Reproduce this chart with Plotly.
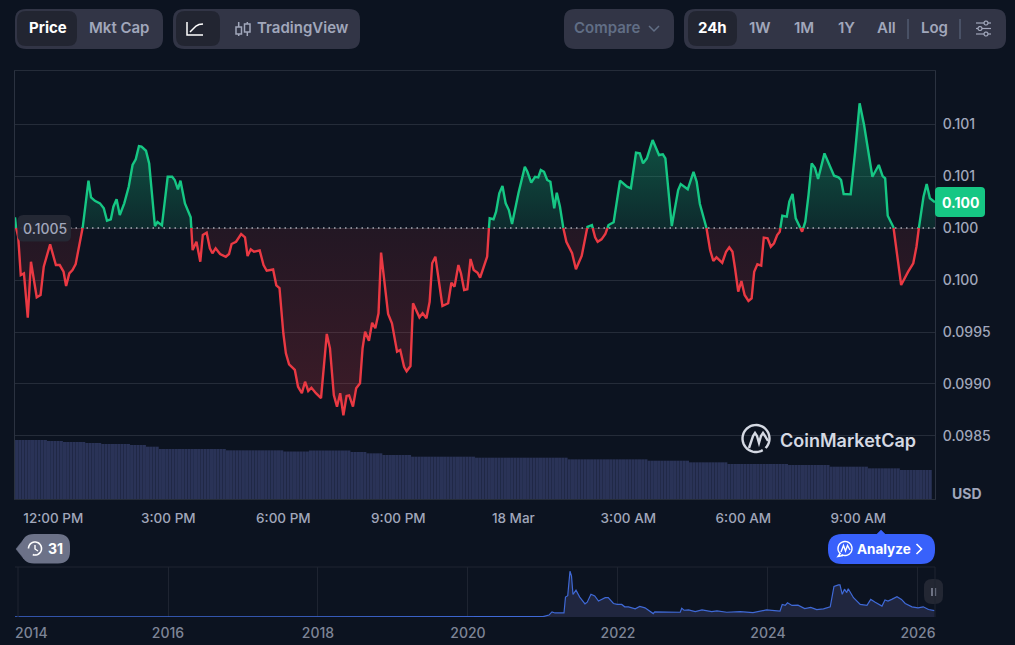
import math
import numpy as np
import plotly.graph_objects as go

W, H = 1015, 645

# 24h price, minutes after 11:00 on 17 Mar
minutes = [0, 1, 5, 9, 14, 20, 25, 34, 40, 45, 55, 64, 70, 76, 80, 85, 90, 95, 106, 115, 119, 125, 133, 139, 144, 150,
           154, 159, 164, 171, 178, 184, 189, 194, 198, 205, 210, 219, 223, 230, 239, 246, 250, 255, 259, 266, 275,
           278, 284, 290, 294, 300, 305, 309, 314, 321, 330, 335, 339, 346, 354, 360, 364, 369, 374, 383, 389, 394,
           404, 409, 414, 420, 424, 429, 438, 443, 449, 454, 459, 464, 471, 479, 488, 493, 499, 504, 509, 514, 519,
           523, 529, 534, 540, 544, 548, 554, 559, 564, 569, 573, 584, 590, 598, 603, 609, 613, 619, 623, 633, 638,
           644, 649, 653, 658, 669, 678, 683, 688, 694, 698, 703, 708, 713, 718, 724, 728, 739, 742, 743, 749, 753,
           758, 763, 768, 773, 778, 788, 798, 802, 808, 814, 819, 823, 828, 833, 838, 844, 848, 853, 858, 863, 872,
           878, 883, 887, 896, 903, 908, 912, 918, 924, 929, 937, 947, 958, 964, 972, 978, 983, 989, 998, 1008, 1014,
           1018, 1028, 1038, 1042, 1053, 1062, 1067, 1072, 1082, 1088, 1093, 1098, 1107, 1113, 1118, 1123, 1127, 1132,
           1137, 1142, 1148, 1153, 1157, 1162, 1168, 1172, 1178, 1183, 1188, 1193, 1197, 1201, 1208, 1212, 1217, 1222,
           1232, 1237, 1242, 1247, 1252, 1257, 1267, 1276, 1282, 1289, 1293, 1297, 1308, 1315, 1322, 1329, 1336, 1342,
           1352, 1358, 1362, 1366, 1375, 1381, 1387, 1398, 1406, 1411, 1415, 1422, 1427, 1432, 1440]
prices = [0.100603, 0.100519, 0.100416, 0.100048, 0.100064, 0.099638, 0.100176, 0.099834, 0.099856, 0.100128, 0.100343,
          0.100144, 0.100144, 0.100080, 0.099942, 0.100064, 0.100096, 0.100154, 0.100507, 0.100955, 0.100795, 0.100762,
          0.100737, 0.100689, 0.100570, 0.100584, 0.100705, 0.100776, 0.100625, 0.100737, 0.100897, 0.101106, 0.101161,
          0.101288, 0.101282, 0.101243, 0.101122, 0.100519, 0.100558, 0.100526, 0.100993, 0.100993, 0.100962, 0.100872,
          0.100955, 0.100737, 0.100603, 0.100288, 0.100368, 0.100176, 0.100433, 0.100455, 0.100305, 0.100257, 0.100305,
          0.100250, 0.100224, 0.100250, 0.100346, 0.100368, 0.100442, 0.100411, 0.100231, 0.100295, 0.100272, 0.100285,
          0.100144, 0.100089, 0.100101, 0.099949, 0.099923, 0.099488, 0.099295, 0.099189, 0.099135, 0.098974, 0.098911,
          0.099022, 0.098933, 0.098964, 0.098911, 0.098865, 0.099481, 0.099343, 0.098894, 0.098782, 0.098911, 0.098699,
          0.098885, 0.098891, 0.098782, 0.098959, 0.099007, 0.099343, 0.099503, 0.099416, 0.099589, 0.099536, 0.099680,
          0.100263, 0.099673, 0.099584, 0.099311, 0.099327, 0.099166, 0.099122, 0.099173, 0.099776, 0.099641, 0.099680,
          0.099632, 0.099791, 0.100161, 0.100224, 0.099750, 0.099776, 0.099974, 0.099936, 0.100144, 0.100064, 0.099904,
          0.099911, 0.100202, 0.100096, 0.100070, 0.100022, 0.100224, 0.100519, 0.100593, 0.100584, 0.100657, 0.100834,
          0.100904, 0.100737, 0.100673, 0.100538, 0.100834, 0.101089, 0.101041, 0.100936, 0.100993, 0.100987, 0.101058,
          0.101041, 0.100962, 0.100945, 0.100689, 0.100839, 0.100705, 0.100507, 0.100368, 0.100257, 0.100103, 0.100176,
          0.100231, 0.100512, 0.100529, 0.100411, 0.100368, 0.100391, 0.100442, 0.100529, 0.100555, 0.100955, 0.100897,
          0.100882, 0.101224, 0.101218, 0.101122, 0.101170, 0.101346, 0.101202, 0.101209, 0.101170, 0.100519, 0.100865,
          0.100923, 0.100872, 0.101041, 0.100945, 0.100731, 0.100512, 0.100288, 0.100183, 0.100218, 0.100166, 0.100272,
          0.100314, 0.100272, 0.100113, 0.099888, 0.099990, 0.099856, 0.099798, 0.099824, 0.100080, 0.100151, 0.100138,
          0.100407, 0.100401, 0.100320, 0.100353, 0.100433, 0.100464, 0.100618, 0.100609, 0.100753, 0.100827, 0.100593,
          0.100464, 0.100561, 0.100817, 0.101122, 0.101080, 0.100971, 0.101218, 0.101089, 0.101003, 0.100987, 0.100962,
          0.100827, 0.100824, 0.101234, 0.101699, 0.101490, 0.101202, 0.100993, 0.101106, 0.101000, 0.100978, 0.100618,
          0.100507, 0.100240, 0.099952, 0.100080, 0.100161, 0.100320, 0.100512, 0.100801, 0.100923, 0.100786, 0.100747]
base_price = 0.1005

# volume bars, 5 min each: run length and level
vol_runs = [10, 5, 7, 5, 9, 5, 4, 21, 18, 8, 13, 5, 5, 9, 20, 29, 25, 13, 12, 19, 13, 12, 10, 10]
vol_levels = [1.77, 1.74, 1.71, 1.68, 1.65, 1.62, 1.57, 1.50, 1.46, 1.425, 1.455, 1.41, 1.37, 1.32, 1.27, 1.24, 1.19,
              1.15, 1.10, 1.05, 1.02, 0.97, 0.92, 0.87]

time_ticks = [60, 240, 420, 600, 780, 960, 1140, 1320]
time_labels = ["12:00 PM", "3:00 PM", "6:00 PM", "9:00 PM", "18 Mar", "3:00 AM", "6:00 AM", "9:00 AM"]
price_ticks = [0.1015, 0.101, 0.1005, 0.1, 0.0995, 0.099, 0.0985]
price_labels = ["0.101", "0.101", "0.100", "0.100", "0.0995", "0.0990", "0.0985"]

# all time price for the small chart
hist_years = [2013.96, 2014.5, 2016.0, 2017.5, 2017.9, 2018.03, 2018.15, 2018.3, 2018.45, 2018.6, 2018.8, 2019.0, 2019.5,
              2020.0, 2020.43, 2021.00, 2021.08, 2021.12, 2021.16, 2021.28, 2021.30, 2021.33, 2021.36, 2021.38, 2021.40,
              2021.44, 2021.49, 2021.56, 2021.59, 2021.64, 2021.69, 2021.74, 2021.83, 2021.87, 2021.94, 2021.99, 2022.05,
              2022.09, 2022.14, 2022.23, 2022.29, 2022.36, 2022.47, 2022.49, 2022.83, 2022.85, 2022.88, 2022.94, 2023.03,
              2023.12, 2023.25, 2023.32, 2023.45, 2023.63, 2023.80, 2023.98, 2024.16, 2024.19, 2024.23, 2024.26, 2024.32,
              2024.40, 2024.49, 2024.57, 2024.65, 2024.74, 2024.83, 2024.88, 2024.94, 2024.96, 2024.99, 2025.02, 2025.05,
              2025.07, 2025.14, 2025.23, 2025.32, 2025.37, 2025.43, 2025.52, 2025.56, 2025.60, 2025.65, 2025.72, 2025.78,
              2025.83, 2025.92, 2026.00, 2026.07, 2026.14, 2026.22]
hist_prices = [0.001, 0.001, 0.001, 0.001, 0.003, 0.012, 0.006, 0.004, 0.007, 0.003, 0.006, 0.003, 0.003,
               0.002, 0.002, 0.005, 0.03, 0.08, 0.063, 0.063, 0.31, 0.33, 0.71, 0.64, 0.35,
               0.416, 0.31, 0.205, 0.23, 0.353, 0.327, 0.248, 0.30, 0.30, 0.21, 0.195, 0.195,
               0.158, 0.158, 0.126, 0.163, 0.142, 0.053, 0.079, 0.074, 0.137, 0.105, 0.11, 0.084,
               0.11, 0.084, 0.095, 0.074, 0.084, 0.069, 0.11, 0.09, 0.195, 0.18, 0.22, 0.18,
               0.185, 0.13, 0.148, 0.116, 0.126, 0.158, 0.474, 0.50, 0.50, 0.353, 0.432, 0.38,
               0.44, 0.30, 0.195, 0.18, 0.274, 0.23, 0.169, 0.264, 0.248, 0.274, 0.316, 0.274,
               0.21, 0.158, 0.142, 0.158, 0.116, 0.10]
hist_ticks = [2016, 2018, 2020, 2022, 2024, 2026]

BG = "#0c1320"
GREEN = "#16c784"
RED = "#ea3943"
GRID = "#252c39"
MUTED = "#a1a7bb"
PILL = "#323546"
ACTIVE = "#222531"


def px(x):
    return x / W


def py(y):
    return 1 - y / H


def split_at_base(xs, ys, base):
    # cut the line where it crosses the base so each side gets its own colour
    up, down = ([], []), ([], [])
    for i in range(len(xs)):
        side = up if ys[i] >= base else down
        other = down if ys[i] >= base else up
        if i > 0 and (ys[i] >= base) != (ys[i - 1] >= base):
            t = (base - ys[i - 1]) / (ys[i] - ys[i - 1])
            cx = xs[i - 1] + t * (xs[i] - xs[i - 1])
            other[0].extend([cx, None])
            other[1].extend([base, None])
            side[0].append(cx)
            side[1].append(base)
        side[0].append(xs[i])
        side[1].append(ys[i])
    return up, down


def closed(seg, base):
    # every stretch becomes a polygon closed along the base
    out_x, out_y = [], []
    start = 0
    for i in range(len(seg[0]) + 1):
        if i == len(seg[0]) or seg[0][i] is None:
            part_x, part_y = seg[0][start:i], seg[1][start:i]
            if part_x:
                out_x += [part_x[0]] + part_x + [part_x[-1], None]
                out_y += [base] + part_y + [base, None]
            start = i + 1
    return out_x, out_y


def box(x0, y0, x1, y1, r, color):
    d = (f"M{px(x0 + r)},{py(y0)} L{px(x1 - r)},{py(y0)} Q{px(x1)},{py(y0)} {px(x1)},{py(y0 + r)} "
         f"L{px(x1)},{py(y1 - r)} Q{px(x1)},{py(y1)} {px(x1 - r)},{py(y1)} L{px(x0 + r)},{py(y1)} "
         f"Q{px(x0)},{py(y1)} {px(x0)},{py(y1 - r)} L{px(x0)},{py(y0 + r)} Q{px(x0)},{py(y0)} {px(x0 + r)},{py(y0)} Z")
    return dict(type="path", path=d, xref="paper", yref="paper", fillcolor=color, line=dict(width=0))


def stroke(points, color, width=1.5, close=False, fill=None):
    d = "M" + " L".join(f"{px(x)},{py(y)}" for x, y in points) + (" Z" if close else "")
    shape = dict(type="path", path=d, xref="paper", yref="paper", line=dict(color=color, width=width))
    if fill:
        shape["fillcolor"] = fill
    return shape


def arc(cx, cy, r, a0, a1, n=40):
    return [(cx + r * math.cos(math.radians(a)), cy + r * math.sin(math.radians(a))) for a in np.linspace(a0, a1, n)]


def label(text, x, y, size=15, color=MUTED, weight=600, anchor="center", family="Inter"):
    return dict(text=text, x=px(x), y=py(y), xref="paper", yref="paper", showarrow=False, xanchor=anchor,
                yanchor="middle", font=dict(family=family, size=size, color=color, weight=weight))


up, down = split_at_base(minutes, prices, base_price)
up_fill = closed(up, base_price)
down_fill = closed(down, base_price)

vol_y = np.repeat(vol_levels, vol_runs)
vol_x = np.arange(len(vol_y)) * 5 + 2.5

fig = go.Figure()

fig.add_trace(go.Scatter(x=up_fill[0], y=up_fill[1], mode="lines", fill="toself", line=dict(width=0),
                         fillgradient=dict(type="vertical", start=base_price, stop=0.1015,
                                           colorscale=[[0, "rgba(22,199,132,0.13)"], [1, "rgba(22,199,132,0.38)"]]),
                         hoverinfo="skip"))
fig.add_trace(go.Scatter(x=down_fill[0], y=down_fill[1], mode="lines", fill="toself", line=dict(width=0),
                         fillgradient=dict(type="vertical", start=0.0987, stop=base_price,
                                           colorscale=[[0, "rgba(234,57,67,0.22)"], [1, "rgba(234,57,67,0.10)"]]),
                         hoverinfo="skip"))
fig.add_trace(go.Scatter(x=[0, 1440], y=[base_price, base_price], mode="lines",
                         line=dict(color="#a8acb5", width=1.3, dash="1.5px 4px"), hoverinfo="skip"))
fig.add_trace(go.Scatter(x=up[0], y=up[1], mode="lines", line=dict(color=GREEN, width=2.4), name="above"))
fig.add_trace(go.Scatter(x=down[0], y=down[1], mode="lines", line=dict(color=RED, width=2.4), name="below"))
fig.add_trace(go.Bar(x=vol_x, y=vol_y, yaxis="y2", marker=dict(color="#2a3357", line=dict(width=0)), width=4.85,
                     name="volume"))

fig.add_trace(go.Scatter(x=hist_years, y=hist_prices, xaxis="x2", yaxis="y3", mode="lines", fill="tozeroy",
                         line=dict(color="#3f69d6", width=1.2), fillcolor="#20263f", name="history"))

shapes = [
    box(15, 9, 163, 49, 11, PILL),
    box(17, 11, 77, 46, 9, ACTIVE),
    box(173, 9, 360, 49, 11, PILL),
    box(176, 11, 220, 46, 9, ACTIVE),
    box(564, 9, 674, 49, 11, PILL),
    box(684, 9, 1006, 49, 11, PILL),
    box(688, 11, 737, 46, 9, ACTIVE),
    stroke([(908, 19), (908, 39)], "#616e85", 1),
    stroke([(960, 19), (960, 39)], "#616e85", 1),
    # line icon
    stroke([(187, 22), (187, 35), (203, 35)], "#ffffff"),
    stroke([(190, 32), (193, 29), (196, 26), (199, 24.5), (203, 24)], "#ffffff"),
    # candle icon
    stroke([(238.7, 22), (238.7, 36)], MUTED),
    stroke([(236, 27), (241.5, 27), (241.5, 34), (236, 34)], MUTED, close=True, fill=PILL),
    stroke([(247.3, 22), (247.3, 36)], MUTED),
    stroke([(244.5, 24), (250, 24), (250, 32), (244.5, 32)], MUTED, close=True, fill=PILL),
    # compare chevron
    stroke([(649, 26), (654, 31), (659, 26)], "#616e85"),
    # settings icon
    stroke([(976, 23), (991, 23)], MUTED, 1.2),
    stroke([(976, 28.5), (991, 28.5)], MUTED, 1.2),
    stroke([(976, 34), (991, 34)], MUTED, 1.2),
    stroke(arc(986, 23, 2, 0, 360, 14), MUTED, 1.2, close=True, fill=PILL),
    stroke(arc(980, 28.5, 2, 0, 360, 14), MUTED, 1.2, close=True, fill=PILL),
    stroke(arc(986, 34, 2, 0, 360, 14), MUTED, 1.2, close=True, fill=PILL),
    # value tags
    box(17.5, 215, 71, 241.5, 6, "rgba(38,41,54,0.95)"),
    box(935, 187, 985, 217, 4, GREEN),
    # logo
    stroke(arc(756, 438.5, 13.5, 60, 405), "#d5d9e3", 2.4),
    stroke([(749, 448), (753, 436), (755, 433), (757, 436), (759, 443), (761, 436), (763, 433), (765, 436), (768, 441)],
           "#d5d9e3", 2.4),
    # history badge
    box(22, 534, 70, 563.5, 12, "#6c7288"),
    stroke([(16, 549), (24, 539), (24, 559)], "#6c7288", 0.5, close=True, fill="#6c7288"),
    stroke(arc(35, 548.5, 6.5, 180, 470), "#ffffff", 1.6),
    stroke([(35, 545), (35, 549), (38, 551)], "#ffffff", 1.4),
    # analyze pill
    box(828, 534, 935, 564, 14, "#3861fb"),
    stroke([(876, 535), (881, 530), (886, 535)], "#3861fb", 0.5, close=True, fill="#3861fb"),
    stroke(arc(845, 548.5, 7, 130, 480), "#ffffff", 1.4),
    stroke([(840.5, 553), (838, 556.5), (843, 555.5)], "#ffffff", 1.4),
    stroke([(841, 552), (843.5, 545.5), (845.5, 551), (847.5, 545.5), (850, 550)], "#ffffff", 1.4),
    stroke([(916.5, 544), (921.5, 549), (916.5, 554)], "#ffffff", 1.6),
    # range handle
    box(924, 579, 943, 604, 8, "#232733"),
    stroke([(932, 588), (932, 596)], MUTED, 1.2),
    stroke([(935.5, 588), (935.5, 596)], MUTED, 1.2),
]

annotations = [
    label("Price", 47.5, 28, color="#ffffff", weight=700),
    label("Mkt Cap", 118.5, 28),
    label("TradingView", 303, 28),
    label("Compare", 606.5, 28, color="#616e85"),
    label("24h", 712, 28, color="#ffffff", weight=700),
    label("1W", 760, 28),
    label("1M", 803.5, 28),
    label("1Y", 846, 28),
    label("All", 886.5, 28),
    label("Log", 934, 28),
    label("0.1005", 44.5, 228.5, size=14, weight=500),
    label("0.100", 960, 202.5, size=14, color="#ffffff", weight=700),
    label("USD", 966.5, 493.5, size=14, weight=700),
    label("CoinMarketCap", 848, 440.5, size=18, color="#d5d9e3", weight=600),
    label("31", 55, 548.5, size=14, color="#ffffff", weight=700),
    label("Analyze", 884, 549, size=13.5, color="#ffffff", weight=700),
    label("2014", 31, 632, size=14, color="#7e8597", weight=500),
]

fig.update_layout(
    width=W, height=H, margin=dict(l=0, r=0, t=0, b=0), autosize=False,
    paper_bgcolor=BG, plot_bgcolor=BG, showlegend=False, barmode="overlay", hovermode=False,
    font=dict(family="Inter", size=14, color=MUTED),
    shapes=shapes, annotations=annotations,
    xaxis=dict(domain=[px(15), px(935)], range=[0, 1440], anchor="y", tickvals=time_ticks, ticktext=time_labels,
               showgrid=False, zeroline=False, ticks="outside", ticklen=7, tickcolor="rgba(0,0,0,0)",
               showline=True, linecolor=GRID, mirror=True, tickfont=dict(size=13.5, color=MUTED, weight=500)),
    yaxis=dict(domain=[py(499), py(71)], range=[0.097894, 0.10201], side="right", anchor="x", tickvals=price_ticks,
               ticktext=price_labels, showgrid=True, gridcolor=GRID, gridwidth=1, zeroline=False, ticks="outside",
               ticklen=4, tickcolor="rgba(0,0,0,0)", showline=True, linecolor="#2b3240", mirror=True,
               tickfont=dict(size=14, color=MUTED, weight=500)),
    yaxis2=dict(domain=[py(499), py(71)], range=[0, 12.84], overlaying="y", side="left", visible=False),
    xaxis2=dict(domain=[px(15), px(935)], range=[2013.96, 2026.227], anchor="y3", tickvals=hist_ticks,
                ticktext=[str(t) for t in hist_ticks], showgrid=True, gridcolor="#1e2431", zeroline=False,
                ticks="outside", ticklen=3, tickcolor="rgba(0,0,0,0)", showline=False,
                tickfont=dict(size=14, color="#7e8597", weight=500)),
    yaxis3=dict(domain=[py(617), py(567)], range=[0, 0.777], anchor="x2", showgrid=False, zeroline=False,
                showticklabels=False, showline=False),
)

# frame and the 2014 line of the small chart
fig.add_shape(type="line", xref="paper", yref="paper", x0=px(15), x1=px(935), y0=py(567), y1=py(567),
              line=dict(color="#1e2431", width=1))
fig.add_shape(type="line", xref="paper", yref="paper", x0=px(18), x1=px(18), y0=py(567), y1=py(617),
              line=dict(color="#1e2431", width=1))
fig.add_shape(type="line", xref="paper", yref="paper", x0=px(935), x1=px(935), y0=py(567), y1=py(617),
              line=dict(color="#1e2431", width=1))

fig.write_html("out.html", config=dict(displayModeBar=False),
               post_script="document.body.style.margin='0';document.body.style.background='" + BG + "';")
